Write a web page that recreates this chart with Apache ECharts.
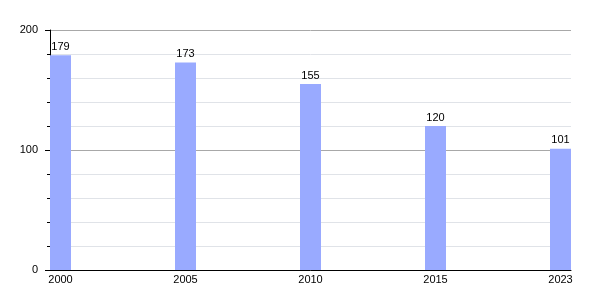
<!DOCTYPE html>
<html>
<head>
<meta charset="utf-8">
<script src="https://cdn.jsdelivr.net/npm/echarts@6/dist/echarts.min.js"></script>
<style>html,body{margin:0;padding:0;background:#fff}#c{width:600px;height:300px}</style>
</head>
<body>
<div id="c"></div>
<script>
const categories = ['2000', '2005', '2010', '2015', '2023'];
const values = [179, 173, 155, 120, 101];
const yTickLabels = [0, 100, 200];

const chart = echarts.init(document.getElementById('c'), null, {renderer: 'canvas'});
const font = 'Liberation Sans, Arial, sans-serif';
chart.setOption({
  animation: false,
  grid: {left: 50, right: 29, top: 30, bottom: 30},
  xAxis: {
    type: 'value',
    min: -0.084,
    max: categories.length - 1 + 0.084,
    splitLine: {show: false},
    axisLine: {show: true, onZero: false, lineStyle: {color: '#000', width: 1}},
    axisTick: {show: false},
    axisLabel: {
      customValues: categories.map((c, i) => i),
      formatter: v => categories[Math.round(v)],
      color: '#000', fontFamily: font, fontSize: 11, margin: 4
    }
  },
  yAxis: {
    type: 'value',
    min: 0, max: 200, interval: 100,
    axisLine: {show: true, onZero: false, lineStyle: {color: '#000', width: 1}},
    axisTick: {show: true, length: 5, lineStyle: {color: '#000'}},
    minorTick: {show: true, splitNumber: 5, length: 3, lineStyle: {color: '#000'}},
    splitLine: {show: true, lineStyle: {color: '#a8a8a8', width: 1}},
    minorSplitLine: {show: true, lineStyle: {color: '#e0e3e8', width: 1}},
    axisLabel: {
      customValues: yTickLabels,
      color: '#000', fontFamily: font, fontSize: 11, margin: 12
    }
  },
  series: [{
    type: 'bar',
    barWidth: 21,
    data: values.map((v, i) => [i, v]),
    itemStyle: {color: '#99aaff'},
    label: {show: true, position: 'top', distance: 3, color: '#000', fontFamily: font, fontSize: 11}
  }]
});
</script>
</body>
</html>
